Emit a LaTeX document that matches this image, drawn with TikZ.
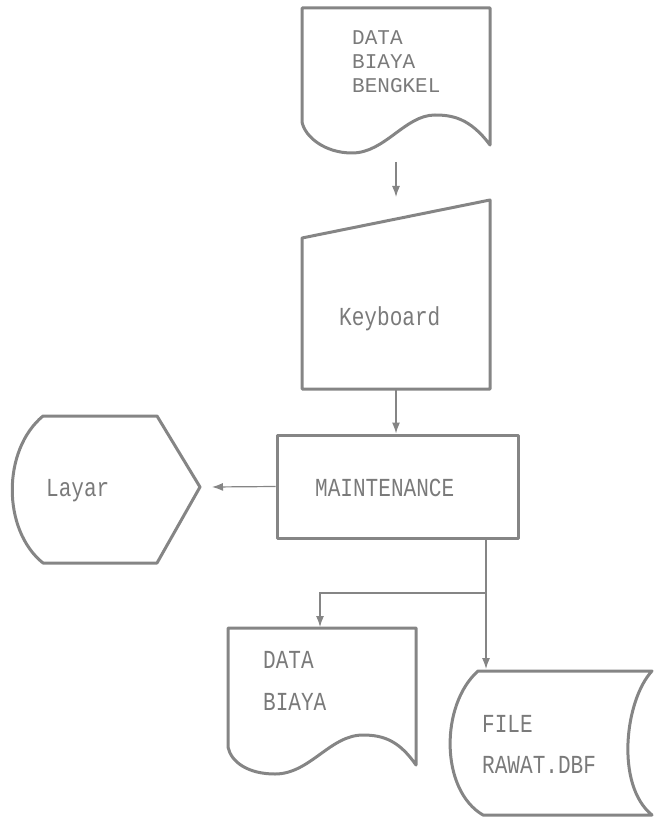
\documentclass[tikz,border=0pt]{standalone}
\usepackage{fontspec}
\newfontfamily\dotfont[FakeStretch=0.81]{Liberation Mono}
\newfontfamily\dotwide{Liberation Mono}
\usetikzlibrary{arrows.meta,positioning}
\definecolor{inkgray}{HTML}{858585}
\definecolor{txtgray}{HTML}{7A7A7A}
\tikzset{
  outline/.style={draw=inkgray, line width=3pt, line join=round},
  flow/.style={draw=inkgray, line width=1.2pt, -{Latex[length=11pt,width=8pt]}},
  lbl/.style={inner sep=0pt, anchor=base west, text=txtgray, font={\dotfont\fontsize{26}{21}\selectfont}},
  smalllbl/.style={lbl, font={\dotwide\fontsize{21}{24}\selectfont}}
}
\begin{document}
\begin{tikzpicture}[x=1pt,y=-1pt]
\useasboundingbox (0,0) rectangle (653,818);
% input document
\draw[outline] (302,8) -- (490,8) -- (490,145)
  .. controls (470,118) and (452,115) .. (435,115)
  .. controls (405,115) and (385,153) .. (352,153)
  .. controls (325,153) and (305,137) .. (302,122) -- cycle;
\node[smalllbl] (dok1) at (352,45) {DATA};
\node[smalllbl] (dok2) at (352,69) {BIAYA};
\node[smalllbl] (dok3) at (352,93) {BENGKEL};
% manual input
\draw[outline] (302,238) -- (490,200) -- (490,389) -- (302,389) -- cycle;
\node[lbl] (kb) at (339,325) {Keyboard};
% process
\node[outline, minimum width=241pt, minimum height=103pt] (maint) at (397.5,486.5) {};
\node[lbl] (mainttxt) at (315,496) {MAINTENANCE};
% display
\draw[outline] (43,416) -- (157,416) -- (200,487) -- (157,563) -- (43,563)
  .. controls (2,530) and (2,450) .. (43,416) -- cycle;
\node[lbl] (layar) at (46,496) {Layar};
% output document
\draw[outline] (228,628) -- (416,628) -- (416,765)
  .. controls (400,742) and (385,735) .. (363,735)
  .. controls (330,735) and (310,774) .. (275,774)
  .. controls (248,774) and (231,762) .. (228,747) -- cycle;
\node[lbl] (out1) at (263,668) {DATA};
\node[lbl] (out2) at (263,710) {BIAYA};
% stored data
\draw[outline] (478,671) -- (652,671) .. controls (625,700) and (615,785) .. (652,815)
  -- (483,815) .. controls (440,790) and (440,705) .. (478,671) -- cycle;
\node[lbl] (file1) at (482,732) {FILE};
\node[lbl] (file2) at (482,773) {RAWAT.DBF};
% connection points
\coordinate (dokbot) at (396,162);
\coordinate (kbtop) at (396,197);
\coordinate (kbbot) at (396,389);
\coordinate (layartip) at (212,487);
\coordinate (mout) at (486,538);
\coordinate (split) at (486,593);
\coordinate (outtop) at (320,627);
\coordinate (filetop) at (486,669);
\draw[flow] (dokbot) -- (kbtop);
\draw[flow] (kbbot) -- (kbbot |- maint.north);
\draw[flow] (maint.west) -- (layartip);
\draw[flow] (mout) -- (filetop);
\draw[flow] (split) -| (outtop);
\end{tikzpicture}
\end{document}
